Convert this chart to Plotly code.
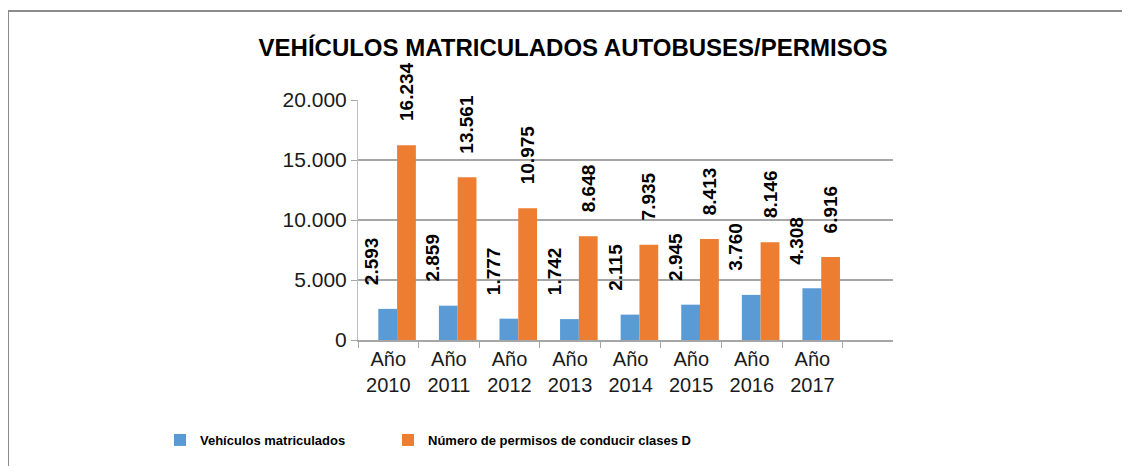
import plotly.graph_objects as go

categories = ["Año<br>2010", "Año<br>2011", "Año<br>2012", "Año<br>2013",
              "Año<br>2014", "Año<br>2015", "Año<br>2016", "Año<br>2017"]
vehiculos = [2593, 2859, 1777, 1742, 2115, 2945, 3760, 4308]
permisos = [16234, 13561, 10975, 8648, 7935, 8413, 8146, 6916]
series_names = ["Vehículos matriculados", "Número de permisos de conducir clases D"]
y_ticks = [0, 5000, 10000, 15000, 20000]

W, H = 1130, 466
OFF = 8  # browser body margin
# target page-pixel geometry of the plot area
PX_LEFT, PX_RIGHT, PX_TOP, PX_BOTTOM = 358, 893, 100, 340
L = PX_LEFT - OFF
T = PX_TOP - OFF
R = W - (PX_RIGHT - OFF)
B = H - (PX_BOTTOM - OFF)
PW, PH = PX_RIGHT - PX_LEFT, PX_BOTTOM - PX_TOP


def px_x(px):
    return (px - PX_LEFT) / PW


def px_y(py):
    return (PX_BOTTOM - py) / PH


blue, orange = "#5B9BD5", "#ED7D31"
font_family = "Liberation Sans, Arial, sans-serif"
BAR_W = 0.31

fig = go.Figure()
fig.add_trace(go.Bar(x=categories, y=vehiculos, name=series_names[0], width=BAR_W, offset=-0.165,
                     marker=dict(color=blue, line=dict(width=0)), legend="legend"))
fig.add_trace(go.Bar(x=categories, y=permisos, name=series_names[1], width=BAR_W, offset=0.145,
                     marker=dict(color=orange, line=dict(width=0)), legend="legend2"))

# data labels (rotated), anchored to each bar's value through the axes
label_font = dict(family=font_family, size=19, color="black", weight="bold")
for vals, xs in [(vehiculos, -16), (permisos, 18)]:
    for cat, v in zip(categories, vals):
        fig.add_annotation(x=cat, y=v, xref="x", yref="y", text=f"{v:,}".replace(",", "."),
                           textangle=-90, showarrow=False, xanchor="center", yanchor="bottom",
                           xshift=xs, yshift=22, font=label_font)

fig.update_layout(
    width=W, height=H,
    margin=dict(l=L, r=R, t=T, b=B),
    paper_bgcolor="white", plot_bgcolor="white",
    separators=",.",
    barmode="overlay",
    title=dict(text="<b>VEHÍCULOS MATRICULADOS AUTOBUSES/PERMISOS</b>",
               x=(573 - OFF) / W, xanchor="center", y=1 - (48 - OFF) / H, yanchor="middle",
               xref="container", yref="container",
               font=dict(family=font_family, size=24, color="black")),
    font=dict(family=font_family, color="black"),
    xaxis=dict(range=[-0.5, 8.33], showgrid=False, showline=True, linecolor="#A6A6A6",
               linewidth=1.5, ticks="outside", ticklen=6, tickcolor="#A6A6A6",
               tickson="boundaries",
               tickfont=dict(size=20, color="#1a1a1a")),
    yaxis=dict(range=[0, 20000], tickvals=y_ticks, tickformat=",d",
               showgrid=True, gridcolor="#A6A6A6", gridwidth=1.5,
               showline=True, linecolor="#BFBFBF", linewidth=1,
               ticks="outside", ticklen=6, tickcolor="#A6A6A6",
               tickfont=dict(size=21, color="#1a1a1a"), zeroline=False),
    legend=dict(orientation="h", x=px_x(160), xanchor="left", y=px_y(440), yanchor="middle",
                font=dict(family=font_family, size=13, color="black", weight="bold"),
                itemwidth=30),
    legend2=dict(orientation="h", x=px_x(388), xanchor="left", y=px_y(440), yanchor="middle",
                 font=dict(family=font_family, size=13, color="black", weight="bold"),
                 itemwidth=30),
    showlegend=True,
)

# outer chart border (top and left edges visible)
fig.add_shape(type="line", xref="paper", yref="paper",
              x0=px_x(8), y0=px_y(11), x1=px_x(1145), y1=px_y(11),
              line=dict(color="#8C8C8C", width=2))
fig.add_shape(type="line", xref="paper", yref="paper",
              x0=px_x(8), y0=px_y(11), x1=px_x(8), y1=px_y(480),
              line=dict(color="#8C8C8C", width=2))

fig.write_html("out.html")
